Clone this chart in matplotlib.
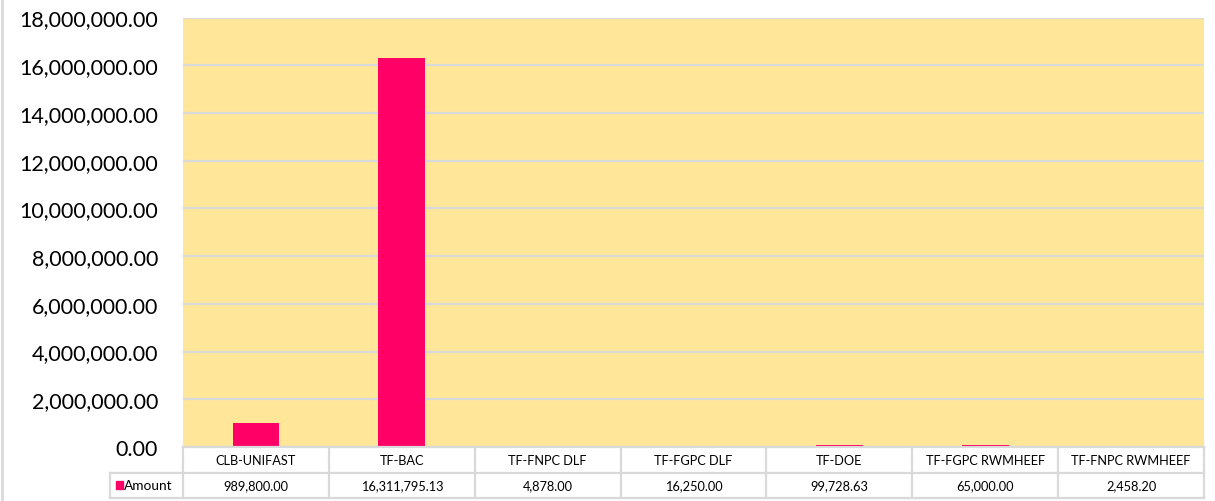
import matplotlib
matplotlib.use("Agg")
import matplotlib.pyplot as plt
import matplotlib.transforms as mtransforms
from matplotlib.patches import Rectangle
from matplotlib.ticker import FuncFormatter, MultipleLocator

categories = ["CLB-UNIFAST", "TF-BAC", "TF-FNPC DLF", "TF-FGPC DLF",
              "TF-DOE", "TF-FGPC RWMHEEF", "TF-FNPC RWMHEEF"]
amounts = [989800.00, 16311795.13, 4878.00, 16250.00, 99728.63, 65000.00, 2458.20]
series_name = "Amount"

BAR = "#FF0066"
BG = "#FFE699"
GRID = "#D9D9D9"
TXT = "#000000"

plt.rcParams["font.family"] = ["Lato", "DejaVu Sans"]

W, H = 1215, 502
fig = plt.figure(figsize=(W / 100, H / 100), dpi=100)
ax = fig.add_axes([183 / W, 1 - 448 / H, (1204 - 183) / W, (448 - 18.5) / H])
ax.set_facecolor(BG)

x = list(range(len(categories)))
ax.bar(x, amounts, width=0.32, color=BAR, zorder=3)

ax.set_xlim(-0.5, len(categories) - 0.5)
ax.set_ylim(0, 18000000)
ax.yaxis.set_major_locator(MultipleLocator(2000000))
ax.yaxis.set_major_formatter(FuncFormatter(lambda v, p: f"{v:,.2f}"))
ax.grid(axis="y", color=GRID, lw=1.6, zorder=1)
ax.set_axisbelow(True)
for s in ax.spines.values():
    s.set_visible(False)
ax.tick_params(axis="y", length=0, pad=18, labelsize=15.5, labelcolor=TXT)
ax.set_xticks([])

# data table under the plot
tr = mtransforms.blended_transform_factory(ax.transData, ax.transAxes)
ax_h_px = 448 - 18.5
r = 25.5 / ax_h_px
n = len(categories)
lk = dict(color=GRID, lw=1.6, transform=tr, clip_on=False, zorder=4)
ax.plot([-0.5, n - 0.5], [0, 0], **lk)
ax.plot([-1.0, n - 0.5], [-r, -r], **lk)
ax.plot([-1.0, n - 0.5], [-2 * r, -2 * r], **lk)
for i in range(n + 1):
    ax.plot([i - 0.5, i - 0.5], [0, -2 * r], **lk)
ax.plot([-1.0, -1.0], [-r, -2 * r], **lk)

for i, (c, v) in enumerate(zip(categories, amounts)):
    ax.text(i, -0.5 * r, c, transform=tr, ha="center", va="center",
            fontsize=9.2, color=TXT, clip_on=False)
    ax.text(i, -1.5 * r, f"{v:,.2f}", transform=tr, ha="center", va="center",
            fontsize=9.2, color=TXT, clip_on=False)

ax.add_patch(Rectangle((-0.96, -1.5 * r - 3.5 / ax_h_px), 0.048, 7.5 / ax_h_px,
                       color=BAR, transform=tr, clip_on=False))
ax.text(-0.905, -1.5 * r, series_name, transform=tr, ha="left", va="center",
        fontsize=9.8, color=TXT, clip_on=False)

# chart frame edge on the left
fig.add_artist(plt.Line2D([2 / W, 2 / W], [0, 1], color=GRID, lw=2,
                          transform=fig.transFigure))

fig.savefig("out.png", dpi=100, facecolor="white")
